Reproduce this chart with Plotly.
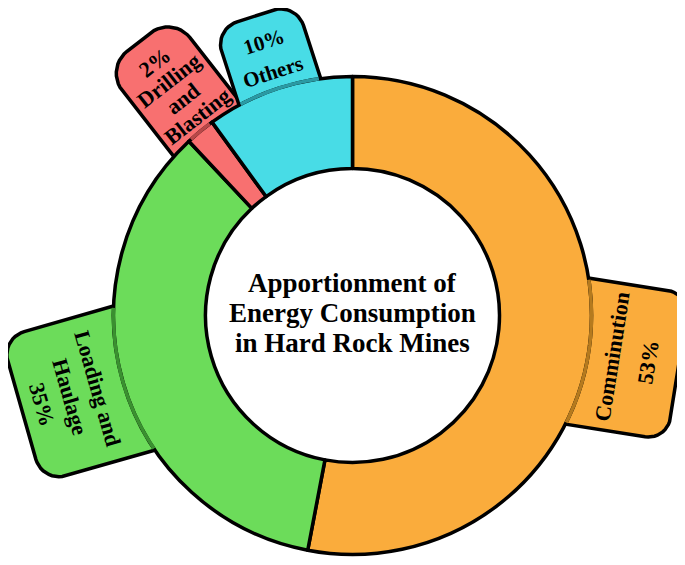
import numpy as np
import plotly.graph_objects as go

# ---- data ----
LABELS = ["Comminution", "Loading and Haulage", "Drilling and Blasting", "Others"]
VALUES = [53, 35, 2, 10]
TAB_TEXT = ["Comminution<br>53%",
            "Loading and<br>Haulage<br>35%",
            "2%<br>Drilling<br>and<br>Blasting",
            "10%<br>Others"]
TITLE_LINES = ["Apportionment of", "Energy Consumption", "in Hard Rock Mines"]

# ---- style ----
COLORS = ["#FAAC3C", "#6CDC5A", "#F87070", "#48DCE6"]
DARK = ["#B57A1E", "#3A9030", "#B84848", "#2A9AA4"]
FONT = "Liberation Serif"

# tab geometry: angle clockwise from 12 o'clock (deg), sizes in px
TAB_ANGLE = [99, 254, 322, 342]
TAB_WIDTH = [148, 150, 86, 86]
TAB_REACH = [330, 344, 347, 315]
TAB_CORNER = [22, 24, 28, 24]
TEXT_R = [281, 294, 287, 272]
TEXT_SIZE = [22, 22, 22, 21]
TEXT_GAP = [36, 29, 23, 31]

W, H = 685, 565            # browser window
PAD = 8                    # page body margin
FW, FH = W - 2 * PAD, H - 2 * PAD
CX, CY = 352.5 - PAD, 315.5 - PAD   # ring centre inside the figure, px
R_OUT, R_IN = 239, 147


def polar(r, ang):
    a = np.radians(ang)
    return r * np.sin(a), r * np.cos(a)


def tab_outline(ang, width, reach, c, r0=200):
    h = width / 2
    u, v = [r0, reach - c], [-h, -h]
    phi = np.linspace(0, np.pi / 2, 12)
    u += list(reach - c + c * np.sin(phi)); v += list(-h + c - c * np.cos(phi))
    u += list(reach - c + c * np.cos(phi)); v += list(h - c + c * np.sin(phi))
    u += [r0]; v += [h]
    u, v = np.array(u), np.array(v)
    a = np.radians(ang)
    x = u * np.sin(a) + v * np.cos(a)
    y = u * np.cos(a) - v * np.sin(a)
    return x, y


fig = go.Figure()

# tabs sit underneath the ring
for i in range(len(VALUES)):
    x, y = tab_outline(TAB_ANGLE[i], TAB_WIDTH[i], TAB_REACH[i], TAB_CORNER[i])
    fig.add_trace(go.Scatter(
        x=x, y=y, mode="lines", fill="toself", fillcolor=COLORS[i],
        line=dict(color="black", width=3.5), hoverinfo="skip", showlegend=False
    ))

fig.add_trace(go.Pie(
    values=VALUES, labels=LABELS, sort=False, direction="clockwise", rotation=0,
    hole=R_IN / R_OUT, textinfo="none", hoverinfo="label+percent", showlegend=False,
    marker=dict(colors=COLORS, line=dict(color="black", width=3.5)),
    domain=dict(x=[(CX - R_OUT) / FW, (CX + R_OUT) / FW],
                y=[(FH - CY - R_OUT) / FH, (FH - CY + R_OUT) / FH])
))

# where a tab meets its own slice the outer edge shows through darker
bounds = 360 * np.concatenate([[0], np.cumsum(VALUES)]) / sum(VALUES)
shapes = []
for i in range(len(VALUES)):
    half = np.degrees(np.arcsin((TAB_WIDTH[i] / 2 - 1.8) / R_OUT))
    a0 = max(TAB_ANGLE[i] - half, bounds[i] + 0.7)
    a1 = min(TAB_ANGLE[i] + half, bounds[i + 1] - 0.7)
    if a1 <= a0:
        continue
    pts = [polar(R_OUT, a) for a in np.linspace(a0, a1, 30)]
    path = "M " + " L ".join(f"{px:.2f},{py:.2f}" for px, py in pts)
    shapes.append(dict(type="path", path=path, xref="x", yref="y", layer="above",
                       line=dict(color=DARK[i], width=3.5)))

annotations = []


def add_lines(lines, cx, cy, angle, size, gap):
    a = np.radians(angle)
    dx, dy = -np.sin(a), -np.cos(a)   # "down" direction of rotated text
    n = len(lines)
    for k, line in enumerate(lines):
        off = (k - (n - 1) / 2) * gap
        annotations.append(dict(
            x=cx + off * dx, y=cy + off * dy, xref="x", yref="y",
            text=f"<b>{line}</b>", showarrow=False, textangle=angle,
            xanchor="center", yanchor="middle",
            font=dict(family=FONT, size=size, color="black")
        ))


for i in range(len(VALUES)):
    ta = ((TAB_ANGLE[i] - 90) % 180) - 90
    tx, ty = polar(TEXT_R[i], TAB_ANGLE[i])
    add_lines(TAB_TEXT[i].split("<br>"), tx, ty, ta, TEXT_SIZE[i], TEXT_GAP[i])

add_lines(TITLE_LINES, 0, 2.5, 0, 27, 30)

fig.update_layout(
    width=FW, height=FH,
    margin=dict(l=0, r=0, t=0, b=0),
    paper_bgcolor="white", plot_bgcolor="white",
    xaxis=dict(range=[-CX, FW - CX], visible=False, fixedrange=True),
    yaxis=dict(range=[-(FH - CY), CY], visible=False, fixedrange=True),
    shapes=shapes, annotations=annotations,
)

fig.write_html("out.html")
